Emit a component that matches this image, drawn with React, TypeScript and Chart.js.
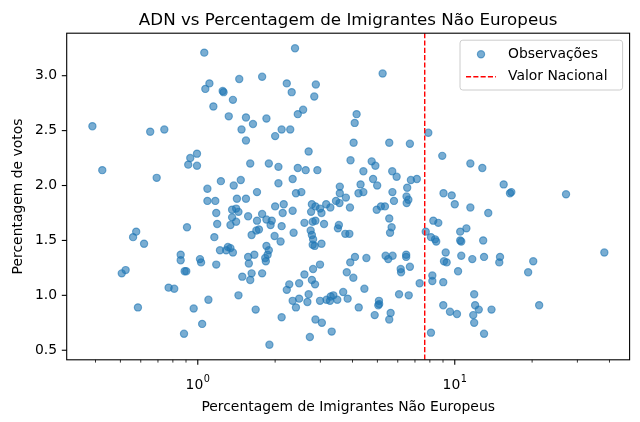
import { useEffect, useRef } from 'react'
import { Chart, registerables } from 'chart.js'

Chart.register(...registerables)

// percentagem de imigrantes não europeus (eixo x, log)
const immigrantPct: number[] = [
  0.389, 0.425, 0.653, 0.741, 0.692, 0.993, 0.935, 0.918, 0.993, 0.576,
  0.56, 0.618, 0.908, 0.858, 0.858, 0.524, 0.506, 0.889, 0.902, 0.77,
  0.81, 0.585, 0.964, 0.884, 1.02, 1.03, 1.06, 1.11, 1.07, 1.15,
  1.09, 1.09, 1.17, 1.18, 1.19, 1.16, 1.22, 1.18, 1.1, 1.04,
  1.23, 2.39, 1.45, 1.78, 1.25, 1.26, 2.22, 2.88, 2.32, 2.84,
  1.37, 2.57, 2.45, 1.32, 1.54, 1.85, 1.64, 1.48, 2.12, 2.29,
  2.0, 1.54, 2.7, 3.93, 1.6, 1.89, 2.06, 2.45, 2.63, 2.92,
  1.47, 1.38, 2.34, 2.06, 3.57, 1.7, 2.41, 2.53, 1.42, 1.54,
  3.57, 3.77, 3.45, 3.56, 3.91, 1.36, 1.41, 1.44, 1.36, 1.41,
  1.34, 1.57, 1.78, 1.7, 1.85, 1.94, 1.92, 2.0, 2.16, 2.14,
  2.34, 2.12, 1.62, 1.69, 1.73, 1.99, 2.1, 2.36, 2.6, 2.8,
  2.87, 3.1, 2.78, 2.87, 2.99, 3.16, 3.03, 3.28, 2.76, 3.54,
  3.51, 3.75, 3.89, 2.75, 2.78, 2.81, 2.8, 2.85, 3.03, 1.31,
  1.34, 1.29, 1.37, 1.85, 1.89, 1.87, 1.83, 1.84, 1.66, 1.57,
  1.58, 1.62, 1.6, 1.49, 1.78, 1.44, 1.68, 1.9, 2.12, 2.27,
  2.22, 2.48, 2.6, 2.81, 2.99, 2.78, 2.86, 2.34, 2.48, 2.41,
  2.7, 2.67, 2.99, 3.17, 3.29, 3.37, 3.49, 3.68, 3.83, 3.27,
  2.87, 3.04, 2.73, 3.32, 3.8, 3.92, 4.03, 5.24, 4.15, 4.08,
  4.04, 5.56, 6.69, 7.89, 4.75, 4.91, 4.41, 5.71, 5.94, 4.81,
  4.99, 4.3, 6.75, 7.12, 6.53, 4.22, 4.41, 5.72, 6.49, 6.6,
  6.5, 5.8, 8.94, 11.5, 12.8, 9.04, 9.73, 10.0, 11.5, 4.97,
  5.16, 5.35, 5.56, 5.68, 5.6, 8.25, 8.63, 7.71, 8.08, 8.38,
  8.47, 10.5, 11.1, 10.5, 10.6, 12.9, 9.22, 4.09, 4.53, 5.38,
  5.51, 5.73, 6.47, 6.47, 6.16, 6.18, 6.69, 9.08, 9.3, 10.6,
  11.7, 13.0, 10.3, 8.18, 8.18, 7.3, 9.02, 4.45, 6.07, 6.62,
  4.23, 5.07, 5.08, 5.04, 4.88, 5.63, 5.56, 9.02, 9.58, 10.2,
  11.9, 12.0, 12.4, 11.8, 11.9, 13.0, 8.08, 15.5, 16.4, 16.6,
  27.1, 13.5, 15.0, 14.9, 20.2, 19.3, 38.2, 21.3, 13.9,
]

// percentagem de votos ADN (eixo y)
const votePct: number[] = [
  2.54, 2.14, 2.49, 2.51, 2.07, 2.29, 2.25, 2.19, 2.18, 1.58,
  1.53, 1.47, 1.62, 1.37, 1.32, 1.23, 1.2, 1.22, 1.22, 1.07,
  1.06, 0.89, 0.88, 0.65, 1.33, 1.3, 3.21, 2.93, 2.88, 2.72,
  1.97, 1.86, 1.86, 1.75, 1.65, 1.53, 1.41, 1.28, 0.96, 0.74,
  2.04, 3.25, 2.97, 2.99, 2.86, 2.85, 2.93, 2.92, 2.85, 2.81,
  2.78, 2.69, 2.65, 2.63, 2.62, 2.61, 2.56, 2.51, 2.51, 2.51,
  2.45, 2.41, 2.31, 2.23, 2.2, 2.2, 2.17, 2.16, 2.14, 2.14,
  2.05, 2.0, 2.06, 2.02, 1.99, 1.94, 1.93, 1.94, 1.88, 1.88,
  1.93, 1.89, 1.86, 1.84, 1.8, 1.78, 1.79, 1.76, 1.71, 1.67,
  1.64, 1.72, 1.74, 1.68, 1.69, 1.68, 1.64, 1.81, 1.83, 1.75,
  1.77, 1.63, 1.55, 1.59, 1.6, 1.54, 1.49, 1.57, 1.66, 1.67,
  1.68, 1.65, 1.83, 1.81, 1.79, 1.83, 1.75, 1.8, 1.76, 1.64,
  1.61, 1.56, 1.56, 1.59, 1.55, 1.51, 1.46, 1.45, 1.47, 1.44,
  1.43, 1.41, 1.39, 1.45, 1.41, 1.37, 1.34, 1.31, 1.37, 1.35,
  1.29, 1.2, 1.14, 1.17, 1.2, 1.0, 0.87, 0.55, 0.8, 1.1,
  1.05, 1.11, 1.19, 1.24, 1.28, 1.14, 1.1, 0.95, 0.97, 0.89,
  1.01, 0.94, 0.95, 0.96, 0.99, 1.0, 0.96, 1.03, 0.97, 0.95,
  0.78, 0.75, 0.62, 0.67, 1.21, 1.3, 1.16, 3.02, 2.65, 2.57,
  2.39, 2.39, 2.38, 2.48, 2.22, 2.18, 2.13, 2.13, 2.08, 2.06,
  2.0, 2.01, 2.05, 2.06, 1.98, 1.93, 1.94, 1.94, 1.9, 1.87,
  1.84, 1.86, 2.27, 2.2, 2.16, 1.93, 1.91, 1.83, 1.8, 1.78,
  1.81, 1.81, 1.7, 1.62, 1.57, 1.68, 1.66, 1.58, 1.53, 1.51,
  1.49, 1.58, 1.61, 1.5, 1.49, 1.5, 1.39, 1.35, 1.34, 1.36,
  1.33, 1.36, 1.37, 1.35, 1.24, 1.21, 1.26, 1.31, 1.3, 1.36,
  1.33, 1.35, 1.22, 1.18, 1.13, 1.11, 1.12, 1.06, 1.01, 1.0,
  0.89, 0.95, 0.92, 0.91, 0.82, 0.84, 0.78, 0.91, 0.85, 0.83,
  1.01, 0.91, 0.87, 0.82, 0.75, 0.65, 0.66, 2.01, 1.93, 1.94,
  1.92, 1.75, 1.35, 1.3, 1.31, 1.21, 1.39, 0.91, 0.87,
]

const nationalValue = 7.64
const xLimits = [0.309, 47.9]
const yLimits = [0.413, 3.387]
const yTicks = [0.5, 1.0, 1.5, 2.0, 2.5, 3.0]
const xMajorTicks = [1, 10]
const xMinorTicks = [0.4, 0.5, 0.6, 0.7, 0.8, 0.9, 2, 3, 4, 5, 6, 7, 8, 9, 20, 30, 40]

const FONT = '"DejaVu Sans", sans-serif'
const POINT_FILL = 'rgba(31, 119, 180, 0.6)'
const DASH = [5.1, 2.2]

const overlay = {
  id: 'overlay',
  afterDatasetsDraw(chart: any) {
    const { ctx, chartArea: a, scales } = chart
    const x = scales.x.getPixelForValue(nationalValue)
    ctx.save()
    ctx.strokeStyle = '#ff0000'
    ctx.lineWidth = 1.4
    ctx.setLineDash(DASH)
    ctx.beginPath()
    ctx.moveTo(x, a.top)
    ctx.lineTo(x, a.bottom)
    ctx.stroke()
    ctx.restore()
  },
  afterDraw(chart: any) {
    const { ctx, chartArea: a, scales } = chart
    const xs = scales.x
    const ys = scales.y
    ctx.save()

    // frame
    ctx.strokeStyle = '#000'
    ctx.lineWidth = 1.1
    ctx.strokeRect(a.left, a.top, a.right - a.left, a.bottom - a.top)

    // x ticks
    ctx.lineWidth = 1.1
    xMajorTicks.forEach((v) => {
      const px = xs.getPixelForValue(v)
      ctx.beginPath()
      ctx.moveTo(px, a.bottom)
      ctx.lineTo(px, a.bottom + 4.9)
      ctx.stroke()
    })
    ctx.lineWidth = 0.8
    xMinorTicks.forEach((v) => {
      const px = xs.getPixelForValue(v)
      ctx.beginPath()
      ctx.moveTo(px, a.bottom)
      ctx.lineTo(px, a.bottom + 2.8)
      ctx.stroke()
    })

    // x tick labels 10^n
    ctx.fillStyle = '#000'
    ctx.textBaseline = 'alphabetic'
    ctx.textAlign = 'left'
    xMajorTicks.forEach((v) => {
      const px = xs.getPixelForValue(v)
      const exp = String(Math.round(Math.log10(v)))
      ctx.font = `13.9px ${FONT}`
      const wBase = ctx.measureText('10').width
      ctx.font = `9.7px ${FONT}`
      const wExp = ctx.measureText(exp).width
      const start = px - (wBase + wExp + 0.5) / 2
      ctx.font = `13.9px ${FONT}`
      ctx.fillText('10', start, a.bottom + 29)
      ctx.font = `9.7px ${FONT}`
      ctx.fillText(exp, start + wBase + 0.5, a.bottom + 22)
    })

    // y ticks
    ctx.lineWidth = 1.1
    ctx.font = `13.9px ${FONT}`
    ctx.textAlign = 'right'
    ctx.textBaseline = 'middle'
    yTicks.forEach((v) => {
      const py = ys.getPixelForValue(v)
      ctx.beginPath()
      ctx.moveTo(a.left - 4.9, py)
      ctx.lineTo(a.left, py)
      ctx.stroke()
      ctx.fillText(v.toFixed(1), a.left - 9.6, py)
    })

    // title & axis labels
    const cx = (a.left + a.right) / 2
    ctx.textAlign = 'center'
    ctx.textBaseline = 'alphabetic'
    ctx.font = `16.7px ${FONT}`
    ctx.fillText('ADN vs Percentagem de Imigrantes Não Europeus', cx, a.top - 8.3)
    ctx.font = `13.9px ${FONT}`
    ctx.fillText('Percentagem de Imigrantes Não Europeus', cx, a.bottom + 51.5)
    ctx.save()
    ctx.translate(18.5, (a.top + a.bottom) / 2)
    ctx.rotate(-Math.PI / 2)
    ctx.textBaseline = 'middle'
    ctx.fillText('Percentagem de votos', 0, 0)
    ctx.restore()

    // legend
    const lw = 162.6
    const lh = 49.8
    const lx = a.right - 7 - lw
    const ly = a.top + 7
    ctx.beginPath()
    ctx.roundRect(lx, ly, lw, lh, 2.8)
    ctx.fillStyle = 'rgba(255,255,255,0.8)'
    ctx.fill()
    ctx.strokeStyle = '#cccccc'
    ctx.lineWidth = 1
    ctx.stroke()

    const row1 = ly + 14.1
    const row2 = ly + 36.5
    ctx.beginPath()
    ctx.arc(lx + 21, row1, 3.6, 0, Math.PI * 2)
    ctx.fillStyle = POINT_FILL
    ctx.fill()
    ctx.strokeStyle = POINT_FILL
    ctx.lineWidth = 1.2
    ctx.stroke()

    ctx.strokeStyle = '#ff0000'
    ctx.lineWidth = 1.4
    ctx.setLineDash(DASH)
    ctx.beginPath()
    ctx.moveTo(lx + 6, row2)
    ctx.lineTo(lx + 36, row2)
    ctx.stroke()
    ctx.setLineDash([])

    ctx.fillStyle = '#000'
    ctx.font = `13.9px ${FONT}`
    ctx.textAlign = 'left'
    ctx.textBaseline = 'middle'
    ctx.fillText('Observações', lx + 48, row1)
    ctx.fillText('Valor Nacional', lx + 48, row2)

    ctx.restore()
  },
}

export default function App() {
  const canvasRef = useRef<HTMLCanvasElement>(null)
  const chartRef = useRef<Chart | null>(null)

  useEffect(() => {
    document.body.style.margin = '0'
    const canvas = canvasRef.current
    if (!canvas) return

    if (chartRef.current) {
      chartRef.current.destroy()
    }

    chartRef.current = new Chart(canvas, {
      type: 'scatter',
      data: {
        datasets: [
          {
            label: 'Observações',
            data: immigrantPct.map((x, i) => ({ x, y: votePct[i] })),
            backgroundColor: POINT_FILL,
            borderColor: POINT_FILL,
            borderWidth: 1.2,
            pointRadius: 3.6,
            pointHoverRadius: 3.6,
          },
        ],
      },
      options: {
        animation: false,
        responsive: false,
        events: [],
        layout: {
          padding: { left: 66.7, right: 10.4, top: 33.2, bottom: 62.2 },
        },
        plugins: {
          legend: { display: false },
          title: { display: false },
          tooltip: { enabled: false },
        },
        scales: {
          x: {
            type: 'logarithmic',
            display: false,
            bounds: 'data',
            min: xLimits[0],
            max: xLimits[1],
          },
          y: {
            type: 'linear',
            display: false,
            bounds: 'data',
            min: yLimits[0],
            max: yLimits[1],
          },
        },
      },
      plugins: [overlay],
    })

    return () => {
      if (chartRef.current) {
        chartRef.current.destroy()
        chartRef.current = null
      }
    }
  }, [])

  return (
    <div style={{ position: 'fixed', left: 0, top: 0, width: 640, height: 422, background: '#fff' }}>
      <canvas ref={canvasRef} width={640} height={422} />
    </div>
  )
}
